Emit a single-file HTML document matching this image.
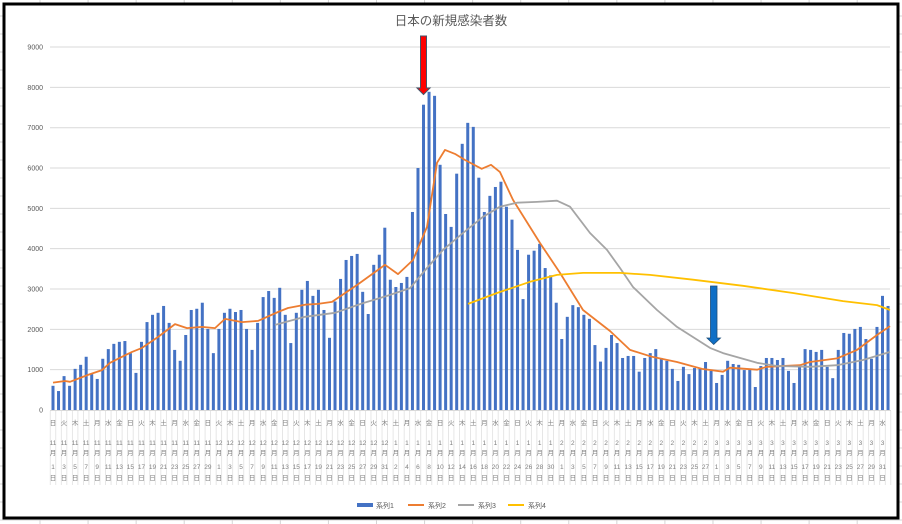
<!DOCTYPE html>
<html><head><meta charset="utf-8">
<style>
html,body{margin:0;padding:0;background:#fff;}
svg{display:block;font-family:"Liberation Sans","Noto Sans CJK JP",sans-serif;}
</style></head>
<body>
<svg id="s" width="902" height="524" xmlns="http://www.w3.org/2000/svg">
<g id="bg"></g>
<rect x="4" y="4" width="894" height="514" fill="#fff" stroke="#000" stroke-width="3"/>
<text x="451" y="25" text-anchor="middle" font-size="12.5" fill="#595959">日本の新規感染者数</text>
<g id="grid"></g>
<g id="bars"></g>
<g id="lines"></g>
<g id="lab"></g>
<g id="leg" font-size="7" fill="#595959">
<rect x="357" y="503" width="16" height="4" fill="#4472C4"/><text x="376" y="508">系列1</text>
<line x1="408" y1="505" x2="424" y2="505" stroke="#ED7D31" stroke-width="2"/><text x="428" y="508">系列2</text>
<line x1="458" y1="505" x2="474" y2="505" stroke="#A5A5A5" stroke-width="2"/><text x="478" y="508">系列3</text>
<line x1="508" y1="505" x2="524" y2="505" stroke="#FFC000" stroke-width="2"/><text x="528" y="508">系列4</text>
</g>
<g id="arrows">
<polygon points="420.5,36 426.5,36 426.5,88 430,88 423.5,94.5 417,88 420.5,88" fill="#FF0000" stroke="#44546A" stroke-width="1"/>
<polygon points="710.5,286 717,286 717,338 720.5,338 713.7,344.5 707,338 710.5,338" fill="#0F6FC6" stroke="#1F4E79" stroke-width="0.8"/>
</g>
</svg>
<script>
var NS="http://www.w3.org/2000/svg";
function el(p,t,a,txt){var e=document.createElementNS(NS,t);for(var k in a)e.setAttribute(k,a[k]);if(txt!==undefined)e.textContent=txt;document.getElementById(p).appendChild(e);return e;}
// spreadsheet background grid
for(var x=40;x<902;x+=48.07)el("bg","line",{x1:x,y1:0,x2:x,y2:524,stroke:"#d4d4d4","stroke-width":1});
for(var y=16;y<524;y+=18)el("bg","line",{x1:0,y1:y,x2:902,y2:y,stroke:"#d4d4d4","stroke-width":1});
function Y(v){return 410-v*0.04033;}
for(var g=0;g<=9000;g+=1000){var yy=Y(g);
 if(g>0)el("grid","line",{x1:50,y1:yy,x2:890,y2:yy,stroke:"#d9d9d9","stroke-width":1});
 el("grid","text",{x:43,y:yy+2.5,"text-anchor":"end","font-size":"7",fill:"#595959"},String(g));}
el("grid","line",{x1:50,y1:410.5,x2:891,y2:410.5,stroke:"#d9d9d9","stroke-width":1});
var d=[600,470,840,600,1020,1120,1320,890,770,1270,1510,1640,1690,1710,1410,920,1690,2180,2360,2410,2580,2160,1490,1220,1860,2480,2510,2660,2010,1410,2010,2410,2510,2430,2480,2010,1490,2160,2800,2950,2780,3030,2360,1660,2410,2980,3200,2830,2980,2480,1790,
2690,3250,3720,3820,3870,2930,2380,3600,3850,4520,3230,3050,3150,3300,4910,6000,7570,7890,7790,6080,4860,4540,5860,6600,7120,7020,5760,4910,5310,5530,5660,5040,4720,3970,2750,3850,3950,4120,3520,3340,2660,1760,2310,2600,2550,2360,2260,1610,1200,1540,1860,1660,
1290,1340,1340,950,1290,1410,1510,1290,1220,1020,720,1070,890,1040,1040,1190,970,670,870,1220,1140,1120,990,1020,570,1090,1290,1290,1240,1290,970,670,1090,1510,1490,1440,1490,1070,790,1490,1910,1890,2010,2060,1760,1270,2060,2830,2580];
var SW=5.53,X0=53;
d.forEach(function(v,i){var cx=X0+i*SW;el("bars","rect",{x:cx-1.5,y:Y(v),width:3,height:410-Y(v),fill:"#4472C4"});});
function pl(pts,col){var s=pts.map(function(p){return p[0]+","+Y(p[1]).toFixed(1);}).join(" ");
 el("lines","polyline",{points:s,fill:"none",stroke:col,"stroke-width":1.8,"stroke-linejoin":"round"});}
pl([[53,680],[65,720],[70,700],[88,870],[102,990],[110,1170],[122,1320],[132,1440],[142,1540],[158,1810],[175,2130],[187,2030],[202,2060],[215,2030],[225,2260],[242,2180],[258,2210],[278,2430],[288,2530],[305,2610],[318,2630],[332,2680],[357,3100],[385,3600],[398,3370],[413,3720],[427,4540],[437,6130],[445,6450],[455,6350],[465,6200],[481.7,5980],[491,6080],[500,5900],[513,5210],[540,4140],[560,3400],[583,2480],[610,1960],[630,1490],[652,1320],[677,1190],[702,1020],[723,950],[730,1050],[757,1000],[767,1070],[800,1110],[810,1190],[837,1280],[857,1490],[877,1860],[890,2080]],"#ED7D31");
pl([[275,2110],[305,2310],[335,2410],[363,2650],[387,2830],[410,3020],[427,3520],[443,3970],[463,4390],[483,4790],[500,5040],[517,5140],[537,5160],[557,5190],[570,5040],[590,4390],[607,3970],[620,3520],[633,3050],[657,2480],[677,2060],[710,1540],[723,1410],[757,1170],[777,1090],[810,1070],[837,1110],[863,1240],[890,1440]],"#A5A5A5");
pl([[468,2630],[497,2900],[530,3180],[557,3350],[583,3400],[620,3400],[650,3350],[693,3230],[743,3080],[793,2900],[843,2700],[877,2600],[890,2480]],"#FFC000");
// category labels
var wd=["日","月","火","水","木","金","土"];
var months=[[11,30],[12,31],[1,31],[2,28],[3,31],[4,1]];var dates=[];
months.forEach(function(m){for(var k=1;k<=m[1];k++)dates.push([m[0],k]);});
for(var i=0;i<=152;i++){var bx=X0-SW/2+i*SW;el("lab","line",{x1:bx,y1:411,x2:bx,y2:485,stroke:"#e0e0e0","stroke-width":0.8});}
for(var i=0;i<152;i+=2){var cx=X0+i*SW,dt=dates[i];var a={"text-anchor":"middle","font-size":"6.5",fill:"#7f7f7f",x:cx};
 a.y=425;el("lab","text",a,wd[i%7]);
 a.y=445;el("lab","text",a,String(dt[0]));
 a.y=455;el("lab","text",a,"月");
 a.y=469;el("lab","text",a,String(dt[1]));
 a.y=480;el("lab","text",a,"日");}
</script>
</body></html>
